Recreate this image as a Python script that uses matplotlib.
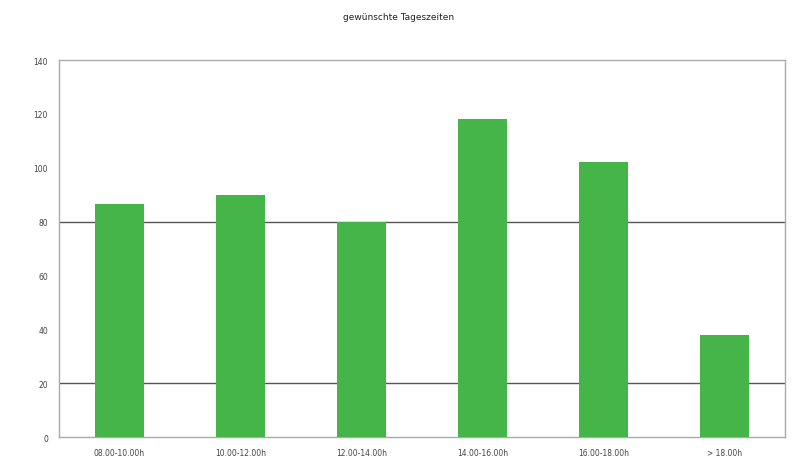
import matplotlib
matplotlib.use("Agg")
import matplotlib.pyplot as plt
import numpy as np

# data
categories = ["08.00-10.00h", "10.00-12.00h", "12.00-14.00h",
              "14.00-16.00h", "16.00-18.00h", "> 18.00h"]
values = [86.5, 90, 80, 118, 102, 38]
yticks = [0, 20, 40, 60, 80, 100, 120, 140]
dark_grid = [20, 80]

fig = plt.figure(figsize=(7.98, 4.60), dpi=100)
ax = fig.add_axes([59/798, 1 - 438/460, 726/798, (438 - 61)/460])

x = np.arange(len(categories))
ax.bar(x, values, width=0.4, color="#45b54a", zorder=3)

for g in dark_grid:
    ax.axhline(g, color="#555555", linewidth=1.0, zorder=1)

ax.set_xlim(-0.5, len(categories) - 0.5)
ax.set_ylim(0, 140)
ax.set_yticks(yticks)
ax.set_yticklabels([str(t) for t in yticks], fontsize=5.5, color="#444444")
ax.set_xticks(x)
ax.set_xticklabels(categories, fontsize=5.5, color="#444444")
ax.tick_params(axis="both", length=0, pad=8)

for side in ["left", "top", "right", "bottom"]:
    ax.spines[side].set_color("#aaaaaa")
    ax.spines[side].set_linewidth(1.0)

fig.text(0.5, 1 - 17/460, "gewünschte Tageszeiten", ha="center", va="center",
         fontsize=6.5, color="#222222")

fig.savefig("out.png", dpi=100)
